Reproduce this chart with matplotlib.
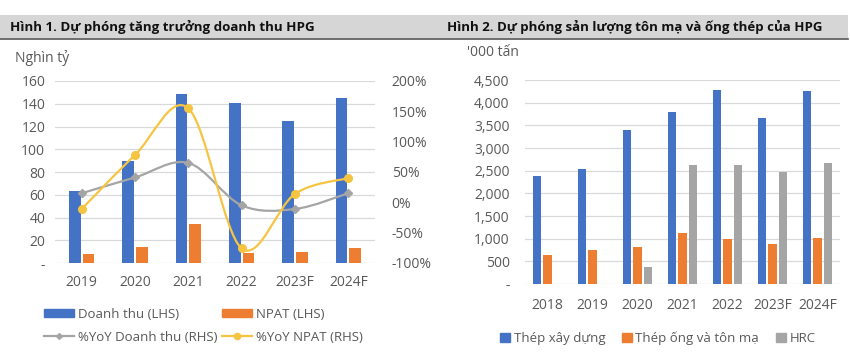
import numpy as np
import matplotlib
matplotlib.use('Agg')
import matplotlib.pyplot as plt
from matplotlib.path import Path
from matplotlib.patches import PathPatch, Rectangle, Patch
from matplotlib.lines import Line2D
from matplotlib.ticker import FuncFormatter

plt.rcParams['font.family'] = ['Open Sans', 'Noto Sans', 'DejaVu Sans']

# Hình 1 data
years1 = ['2019', '2020', '2021', '2022', '2023F', '2024F']
doanh_thu = [63, 90, 149, 141, 125, 145]
npat = [7.5, 14, 34.5, 8.5, 10, 13.5]
yoy_dt = [15, 41, 65, -5, -11, 15]
yoy_npat = [-11, 78, 155, -76, 14, 40]

# Hình 2 data
years2 = ['2018', '2019', '2020', '2021', '2022', '2023F', '2024F']
thep_xd = [2380, 2540, 3400, 3790, 4270, 3670, 4250]
thep_ong = [650, 750, 820, 1130, 1000, 880, 1010]
hrc = [0, 0, 370, 2620, 2620, 2460, 2660]

BLUE = '#4472C4'
ORANGE = '#ED7D31'
GREY = '#A5A5A5'
YELLOW = '#F5C542'
TXT = '#595959'
GRID = '#D9D9D9'

W, H = 850, 354
fig = plt.figure(figsize=(W / 100, H / 100), dpi=100)


def px_axes(x0, y0, x1, y1):
    # pixel box (top-left origin) -> figure axes
    return fig.add_axes([x0 / W, 1 - y1 / H, (x1 - x0) / W, (y1 - y0) / H])


def smooth_path(xs, ys):
    # Excel-style smoothed line (Catmull-Rom -> cubic Bezier)
    pts = np.column_stack([xs, ys]).astype(float)
    n = len(pts)
    verts = [pts[0]]
    codes = [Path.MOVETO]
    for i in range(n - 1):
        p0 = pts[i - 1] if i > 0 else pts[i]
        p1, p2 = pts[i], pts[i + 1]
        p3 = pts[i + 2] if i + 2 < n else pts[i + 1]
        c1 = p1 + (p2 - p0) / 6
        c2 = p2 - (p3 - p1) / 6
        verts += [c1, c2, p2]
        codes += [Path.CURVE4] * 3
    return Path(verts, codes)


# title band
band = fig.add_axes([0, 0, 1, 1], zorder=-5)
band.set_xlim(0, W)
band.set_ylim(H, 0)
band.axis('off')
band.add_patch(Rectangle((0, 15), 848, 23, color='#D6D6D6', lw=0))
band.plot([0, 848], [38.5, 38.5], color='#555555', lw=1.2)
fig.text(10 / W, 1 - 27 / H, 'Hình 1. Dự phóng tăng trưởng doanh thu HPG',
         fontsize=9.6, fontweight='bold', va='center', color='#111111')
fig.text(447 / W, 1 - 27 / H, 'Hình 2. Dự phóng sản lượng tôn mạ và ống thép của HPG',
         fontsize=9.5, fontweight='bold', va='center', color='#111111')

# ---------------- Hình 1 ----------------
ax1 = px_axes(55, 81, 375, 263)
x1 = np.arange(len(years1))
ax1.bar(x1 - 0.13, doanh_thu, width=0.22, color=BLUE, zorder=2)
ax1.bar(x1 + 0.13, npat, width=0.22, color=ORANGE, zorder=2)
ax1.set_xlim(-0.5, len(years1) - 0.5)
ax1.set_ylim(0, 160)
ax1.set_yticks(range(0, 161, 20))
ax1.yaxis.set_major_formatter(FuncFormatter(lambda v, p: '-' if v == 0 else f'{v:.0f}'))
ax1.set_xticks(x1, years1)
ax1.grid(axis='y', color=GRID, lw=0.9, zorder=0)
ax1.set_axisbelow(True)
for s in ax1.spines.values():
    s.set_visible(False)
ax1.tick_params(axis='y', length=0, pad=7, labelsize=10, labelcolor=TXT)
ax1.tick_params(axis='x', length=0, pad=9, labelsize=10, labelcolor=TXT)

ax2 = ax1.twinx()
ax2.set_ylim(-100, 200)
ax2.set_yticks(range(-100, 201, 50))
ax2.yaxis.set_major_formatter(FuncFormatter(lambda v, p: f'{v:.0f}%'))
for s in ax2.spines.values():
    s.set_visible(False)
ax2.tick_params(axis='y', length=0, pad=12, labelsize=10, labelcolor=TXT)
ax2.add_patch(PathPatch(smooth_path(x1, yoy_dt), fc='none', ec=GREY, lw=1.6, zorder=3))
ax2.plot(x1, yoy_dt, ls='none', marker='D', ms=4.5, color=GREY, zorder=4)
ax2.add_patch(PathPatch(smooth_path(x1, yoy_npat), fc='none', ec=YELLOW, lw=1.6, zorder=3))
ax2.plot(x1, yoy_npat, ls='none', marker='o', ms=5.5, color=YELLOW, zorder=4)

fig.text(15 / W, 1 - 58 / H, 'Nghìn tỷ', fontsize=10, color=TXT, va='center')

h1 = [Patch(color=BLUE), Line2D([], [], color=GREY, lw=1.6, marker='D', ms=3),
      Patch(color=ORANGE), Line2D([], [], color=YELLOW, lw=1.6, marker='o', ms=4.5)]
l1 = ['Doanh thu (LHS)', '%YoY Doanh thu (RHS)', 'NPAT (LHS)', '%YoY NPAT (RHS)']
fig.legend(h1, l1, ncol=2, loc='upper left', bbox_to_anchor=(32 / W, 1 - 296 / H),
           frameon=False, fontsize=9.5, labelcolor=TXT, handlelength=2.3,
           handleheight=0.6, handletextpad=0.3, columnspacing=0.3, labelspacing=0.75)

# ---------------- Hình 2 ----------------
ax3 = px_axes(525, 80, 840, 284)
x2 = np.arange(len(years2))
ax3.bar(x2 - 0.23, thep_xd, width=0.18, color=BLUE, zorder=2)
ax3.bar(x2, thep_ong, width=0.18, color=ORANGE, zorder=2)
ax3.bar(x2 + 0.23, hrc, width=0.18, color=GREY, zorder=2)
ax3.set_xlim(-0.5, len(years2) - 0.5)
ax3.set_ylim(0, 4500)
ax3.set_yticks(range(0, 4501, 500))
ax3.yaxis.set_major_formatter(FuncFormatter(lambda v, p: '-' if v == 0 else f'{v:,.0f}'))
ax3.set_xticks(x2, years2)
ax3.grid(axis='y', color=GRID, lw=0.9, zorder=0)
ax3.set_axisbelow(True)
for s in ax3.spines.values():
    s.set_visible(False)
ax3.tick_params(axis='y', length=0, pad=11, labelsize=10, labelcolor=TXT)
ax3.tick_params(axis='x', length=0, pad=10, labelsize=10, labelcolor=TXT)

fig.text(467 / W, 1 - 53 / H, "'000 tấn", fontsize=10, color=TXT, va='center')

h2 = [Patch(color=BLUE), Patch(color=ORANGE), Patch(color=GREY)]
l2 = ['Thép xây dựng', 'Thép ống và tôn mạ', 'HRC']
fig.legend(h2, l2, ncol=3, loc='center', bbox_to_anchor=(658 / W, 1 - 338 / H),
           frameon=False, fontsize=9.5, labelcolor=TXT, handlelength=0.7,
           handleheight=0.7, handletextpad=0.3, columnspacing=1.3)

fig.savefig('out.png', dpi=100)
